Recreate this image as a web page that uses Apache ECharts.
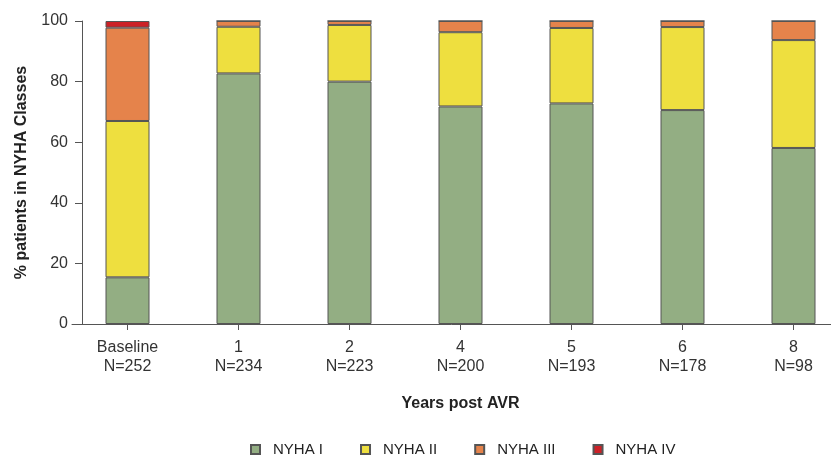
<!DOCTYPE html>
<html><head><meta charset="utf-8">
<script src="https://cdn.jsdelivr.net/npm/echarts@6/dist/echarts.min.js"></script>
<style>html,body{margin:0;padding:0;background:#fff}#c{width:831px;height:458px}</style>
</head><body><div id="c"></div>
<script>
const categories = ['Baseline', '1', '2', '4', '5', '6', '8'];
const nValues = [252, 234, 223, 200, 193, 178, 98];
const nyha1 = [15.4, 82.7, 80.0, 71.8, 72.8, 70.6, 58.1];
const nyha2 = [51.6, 15.4, 18.7, 24.5, 24.9, 27.4, 35.6];
const nyha3 = [30.8, 1.9, 1.3, 3.7, 2.3, 2.0, 6.3];
const nyha4 = [2.2, 0, 0, 0, 0, 0, 0];
const seriesNames = ['NYHA I', 'NYHA II', 'NYHA III', 'NYHA IV'];
const seriesColors = ['#93ae83', '#eedf3f', '#e5834b', '#cc2127'];

const font = 'Liberation Sans, Arial, sans-serif';
const chart = echarts.init(document.getElementById('c'), null, {renderer: 'canvas'});
const allData = [nyha1, nyha2, nyha3, nyha4];
chart.setOption({
  animation: false,
  textStyle: {fontFamily: font},
  grid: {left: 72, width: 777, top: 21, height: 303, containLabel: false, outerBoundsMode: 'none'},
  legend: {
    left: 245, top: 437, itemWidth: 9, itemHeight: 9, itemGap: 37,
    icon: 'rect',
    textStyle: {fontSize: 15, color: '#222', fontFamily: font, padding: [0, 0, 0, 8]},
    data: seriesNames
  },
  xAxis: {
    type: 'category', data: categories, boundaryGap: true,
    name: 'Years post AVR', nameLocation: 'middle', nameGap: 72,
    nameTextStyle: {fontSize: 16, fontWeight: 'bold', color: '#222', fontFamily: font},
    axisLine: {show: true, lineStyle: {color: '#555', width: 1}},
    axisTick: {show: true, alignWithLabel: true, length: 6, lineStyle: {color: '#555'}},
    axisLabel: {
      margin: 14, fontSize: 16, color: '#333', lineHeight: 19, interval: 0,
      formatter: (v, i) => v + '\nN=' + nValues[i]
    },
    splitLine: {show: false}
  },
  yAxis: {
    type: 'value', min: 0, max: 100, interval: 20, offset: -10,
    name: '% patients in NYHA Classes', nameLocation: 'middle', nameGap: 52,
    nameTextStyle: {fontSize: 16, fontWeight: 'bold', color: '#222', fontFamily: font},
    axisLine: {show: true, lineStyle: {color: '#555', width: 1}},
    axisTick: {show: true, length: 7, lineStyle: {color: '#555'}},
    axisLabel: {fontSize: 16, color: '#333', margin: 14},
    splitLine: {show: false}
  },
  series: seriesNames.map((name, s) => ({
    name, type: 'bar', stack: 'total', barWidth: 44,
    itemStyle: {color: seriesColors[s], borderColor: '#555', borderWidth: 1},
    data: allData[s]
  }))
});
</script></body></html>
